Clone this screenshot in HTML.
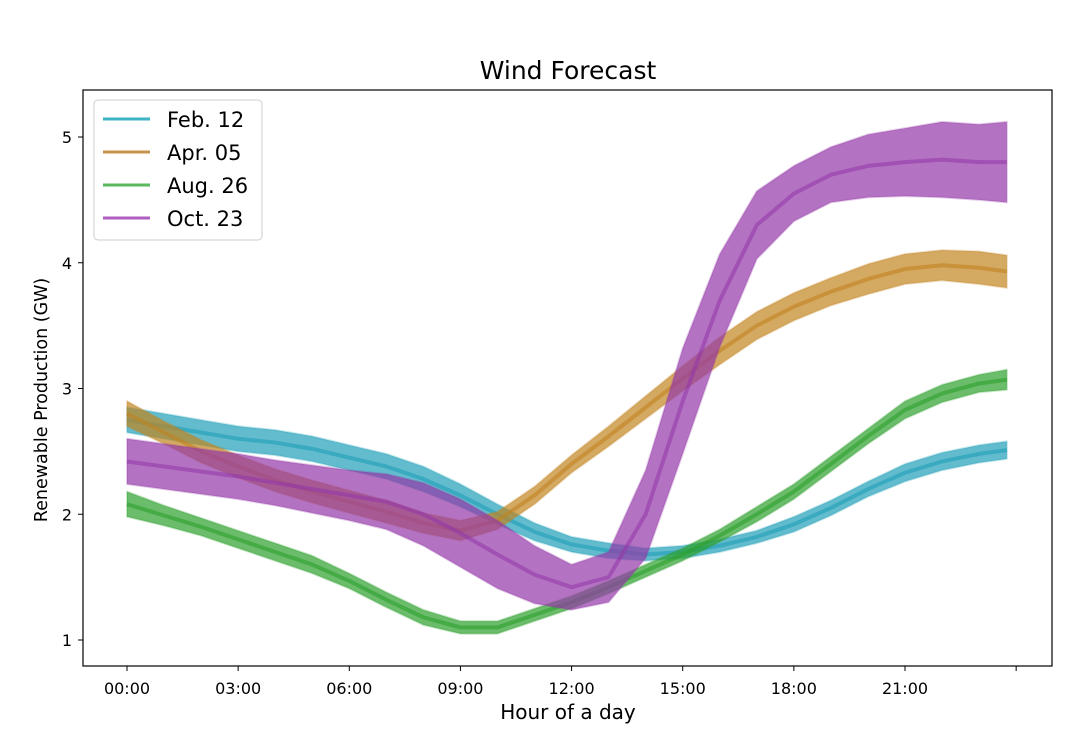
<!DOCTYPE html>
<html><head><meta charset="utf-8"><style>
body{margin:0;background:#fff;font-family:"Liberation Sans","DejaVu Sans",sans-serif}
</style></head><body>
<svg id="chart" width="1076" height="750" xmlns="http://www.w3.org/2000/svg" font-family="DejaVu Sans, Liberation Sans, sans-serif">
<rect width="1076" height="750" fill="#fff"/>
<text x="568" y="79" font-size="25" text-anchor="middle">Wind Forecast</text>
<g id="series"></g>
<rect x="83" y="90" width="969" height="576" fill="none" stroke="#000" stroke-width="1.2"/>
<g id="axes"></g>
<text x="568" y="719" font-size="20" text-anchor="middle">Hour of a day</text>
<text transform="translate(47,400) rotate(-90)" font-size="17.5" text-anchor="middle">Renewable Production (GW)</text>
<g>
<rect x="94" y="100" width="168" height="140" rx="4" fill="#fff" fill-opacity="0.85" stroke="#ccc"/>
</g>
<g id="legend-items"></g>
</svg>
<script>
const hours=[0,1,2,3,4,5,6,7,8,9,10,11,12,13,14,15,16,17,18,19,20,21,22,23,23.75];
const seriesNames=["Feb. 12","Apr. 05","Aug. 26","Oct. 23"];
const febMean=[2.75,2.7,2.65,2.6,2.57,2.52,2.45,2.38,2.28,2.15,2.0,1.86,1.76,1.71,1.68,1.7,1.75,1.82,1.92,2.05,2.2,2.33,2.42,2.48,2.51];
const febSpread=[0.1,0.1,0.1,0.1,0.1,0.1,0.1,0.1,0.1,0.09,0.08,0.07,0.06,0.06,0.05,0.05,0.05,0.05,0.06,0.06,0.06,0.07,0.07,0.07,0.07];
const aprMean=[2.8,2.65,2.5,2.38,2.27,2.18,2.1,2.02,1.93,1.87,1.95,2.15,2.4,2.62,2.85,3.08,3.3,3.5,3.65,3.77,3.87,3.95,3.98,3.96,3.93];
const aprSpread=[0.1,0.09,0.09,0.09,0.09,0.09,0.09,0.09,0.08,0.08,0.07,0.07,0.07,0.08,0.09,0.1,0.11,0.11,0.11,0.11,0.12,0.12,0.12,0.13,0.13];
const augMean=[2.08,1.99,1.9,1.8,1.7,1.6,1.47,1.32,1.18,1.1,1.1,1.2,1.3,1.42,1.55,1.68,1.83,2.0,2.18,2.4,2.62,2.83,2.96,3.04,3.07];
const augSpread=[0.1,0.08,0.07,0.07,0.07,0.07,0.06,0.06,0.06,0.05,0.05,0.05,0.05,0.05,0.05,0.05,0.05,0.06,0.06,0.06,0.06,0.07,0.07,0.07,0.08];
const octMean=[2.42,2.38,2.34,2.3,2.25,2.2,2.15,2.1,2.0,1.85,1.68,1.52,1.42,1.5,2.0,2.9,3.7,4.3,4.55,4.7,4.77,4.8,4.82,4.8,4.8];
const octSpread=[0.18,0.18,0.18,0.18,0.18,0.19,0.2,0.22,0.25,0.27,0.27,0.23,0.18,0.2,0.35,0.42,0.37,0.27,0.22,0.22,0.25,0.27,0.3,0.3,0.32];
const yTicks=[1,2,3,4,5];
const xTickHours=[0,3,6,9,12,15,18,21,24];
const xTickLabels=["00:00","03:00","06:00","09:00","12:00","15:00","18:00","21:00",""];
const bandColors=["#1f9fb8","#c2841f","#2ca02c","#9438a8"];
const legendColors=["#3fb3c6","#c9924a","#5cb85c","#ae5fc0"];
const X=h=>127+h*(778/21);
const Y=v=>640-(v-1)*125.75;
const NS="http://www.w3.org/2000/svg";
function mk(t,a,p){const e=document.createElementNS(NS,t);for(const k in a)e.setAttribute(k,a[k]);p.appendChild(e);return e;}
const sg=document.getElementById('series');
const means=[febMean,aprMean,augMean,octMean],spreads=[febSpread,aprSpread,augSpread,octSpread];
means.forEach((m,i)=>{
  const up=hours.map((h,j)=>X(h)+','+Y(m[j]+spreads[i][j]));
  const lo=hours.map((h,j)=>X(h)+','+Y(m[j]-spreads[i][j])).reverse();
  const band=mk('polygon',{points:up.concat(lo).join(' '),fill:bandColors[i],'fill-opacity':0.7,stroke:bandColors[i],'stroke-opacity':0.25,'stroke-width':2,'stroke-linejoin':'round'},sg);
  
  
  const line=mk('polyline',{points:hours.map((h,j)=>X(h)+','+Y(m[j])).join(' '),fill:'none',stroke:bandColors[i],'stroke-width':4,'stroke-opacity':0.6,'stroke-linejoin':'round'},sg);
  
  
});
const ax=document.getElementById('axes');
yTicks.forEach(v=>{
  const t=mk('line',{x1:78,x2:83,y1:Y(v),y2:Y(v),stroke:'#000'},ax);
  
  
  const l=mk('text',{x:72,y:Y(v)+6,'font-size':16,'text-anchor':'end'},ax);l.textContent=v;
  
  
});
xTickHours.forEach((h,i)=>{
  const t=mk('line',{x1:X(h),x2:X(h),y1:666,y2:671,stroke:'#000'},ax);
  
  
  const l=mk('text',{x:X(h),y:694,'font-size':16,'text-anchor':'middle'},ax);l.textContent=xTickLabels[i];
  
  
});
const lg=document.getElementById('legend-items');
seriesNames.forEach((n,i)=>{
  const y=119+i*33;
  const l=mk('line',{x1:103,x2:150,y1:y,y2:y,stroke:legendColors[i],'stroke-width':3},lg);
  
  
  const t=mk('text',{x:167,y:y+8,'font-size':21},lg);t.textContent=n;
  
  
});
</script>
</body></html>
